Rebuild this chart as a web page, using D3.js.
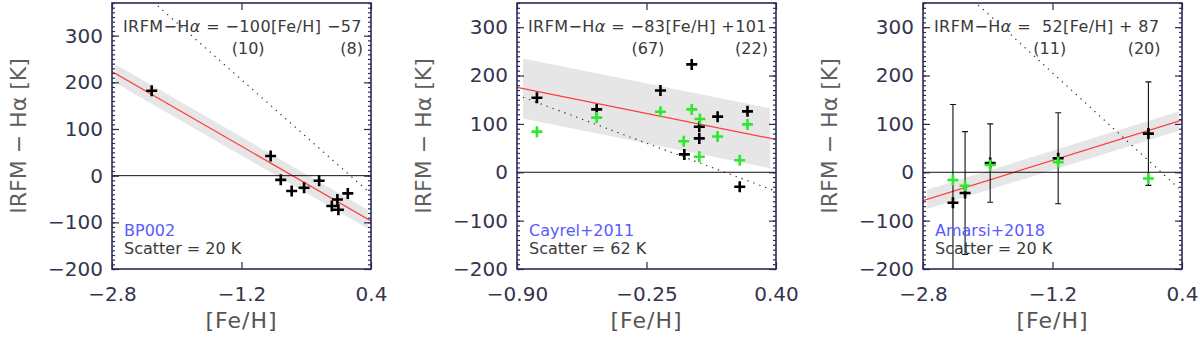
<!DOCTYPE html>
<html>
<head>
<meta charset="utf-8">
<title>IRFM - Halpha</title>
<script src="https://d3js.org/d3.v7.min.js"></script>
<style>
  body { margin: 0; padding: 0; background: #ffffff; }
  svg { display: block; font-family: "DejaVu Sans", sans-serif; }
  .ann { white-space: pre; }
</style>
</head>
<body>
<div id="chart"></div>
<script>
// ---- data ----
var panelNames = ["BP002", "Cayrel+2011", "Amarsi+2018"];
var scatters = [20, 62, 20];
var slopes = [-100, -83, 52];
var intercepts = [-57, 101, 87];
var slopeText = ["\u2212100", "\u221283", " 52"];
var interceptText = ["\u221257", "+101", "+ 87"];
var slopeErrText = ["(10)", "(67)", "(11)"];
var interceptErrText = ["(8)", "(22)", "(20)"];

var xDomains = [[-2.8, 0.4], [-0.9, 0.4], [-2.8, 0.4]];
var yDomains = [[-200, 370], [-200, 350], [-200, 350]];
var xTicks = [[-2.8, -1.2, 0.4], [-0.9, -0.25, 0.4], [-2.8, -1.2, 0.4]];
var xTickLabels = [["\u22122.8", "\u22121.2", "0.4"], ["\u22120.90", "\u22120.25", "0.40"], ["\u22122.8", "\u22121.2", "0.4"]];
var yTicks = [-200, -100, 0, 100, 200, 300];
var yTickLabels = ["\u2212200", "\u2212100", "0", "100", "200", "300"];

// grey band (fit +- scatter) and dotted reference line extents in [Fe/H]
var bandRanges = [[-2.76, 0.36], [-0.87, 0.37], [-2.75, 0.36]];
var refSlope = -153, refIntercept = 22;
var refRanges = [[-2.76, 0.36], [-0.87, 0.40], [-2.75, 0.36]];

// BP002
var bpFe = [-2.31, -0.84, -0.715, -0.58, -0.427, -0.241, -0.084, -0.015, -0.003, 0.113];
var bpDiff = [182, 42, -9, -33, -26, -11, -65, -51, -73, -38];

// Cayrel+2011
var cayBlackFe = [-0.80, -0.50, -0.18, -0.023, 0.107, 0.257, 0.015, 0.015, -0.06, 0.218];
var cayBlack = [154, 130, 169, 223, 115, 126, 94, 70, 37, -30];
var cayGreenFe = [-0.80, -0.50, -0.18, -0.023, 0.018, -0.063, 0.107, 0.257, 0.015, 0.218];
var cayGreen = [84, 113, 125, 130, 110, 64, 74, 99, 32, 25];

// Amarsi+2018
var amFe = [-2.43, -2.28, -1.97, -1.13, -0.015];
var amBlack = [-63, -43, 19, 29, 80];
var amErr = [203, 127, 81, 94, 107];
var amGreen = [-16, -28, 15, 21, -13];

var blackPts = [
  bpFe.map(function (f, i) { return { fe: f, v: bpDiff[i] }; }),
  cayBlackFe.map(function (f, i) { return { fe: f, v: cayBlack[i] }; }),
  amFe.map(function (f, i) { return { fe: f, v: amBlack[i], err: amErr[i] }; })
];
var greenPts = [
  [],
  cayGreenFe.map(function (f, i) { return { fe: f, v: cayGreen[i] }; }),
  amFe.map(function (f, i) { return { fe: f, v: amGreen[i] }; })
];

// ---- layout ----
var W = 1200, H = 341;
var lefts = [112, 517, 923];
var pw = 259, plotTop = 3, ph = 266;
var frameColor = "#2b2b55";
var green = "#2ee82e";

var svg = d3.select("#chart").append("svg")
  .attr("width", W).attr("height", H);

function cross(g, pts, x, y, color) {
  var s = 5.5;
  g.selectAll(null).data(pts).enter().append("path")
    .attr("d", function (d) {
      var cx = x(d.fe), cy = y(d.v);
      return "M" + (cx - s) + "," + cy + "H" + (cx + s) + "M" + cx + "," + (cy - s) + "V" + (cy + s);
    })
    .attr("stroke", color).attr("stroke-width", 2.6).attr("fill", "none");
}

for (var p = 0; p < 3; p++) {
  var g = svg.append("g").attr("transform", "translate(" + lefts[p] + "," + plotTop + ")");
  var x = d3.scaleLinear().domain(xDomains[p]).range([0, pw]);
  var y = d3.scaleLinear().domain(yDomains[p]).range([ph, 0]);

  g.append("clipPath").attr("id", "clip" + p)
    .append("rect").attr("width", pw).attr("height", ph);
  var plot = g.append("g").attr("clip-path", "url(#clip" + p + ")");

  var fit = (function (a, b) { return function (f) { return a * f + b; }; })(slopes[p], intercepts[p]);
  var sc = scatters[p];

  // band
  plot.append("path")
    .datum(bandRanges[p])
    .attr("d", d3.area()
      .x(function (f) { return x(f); })
      .y0(function (f) { return y(fit(f) - sc); })
      .y1(function (f) { return y(fit(f) + sc); }))
    .attr("fill", "#e6e6e6");

  // fit line
  plot.append("path")
    .datum(xDomains[p])
    .attr("d", d3.line().x(function (f) { return x(f); }).y(function (f) { return y(fit(f)); }))
    .attr("stroke", "#ff3b3b").attr("stroke-width", 1.2).attr("fill", "none");

  // dotted reference line
  plot.append("path")
    .datum(refRanges[p])
    .attr("d", d3.line().x(function (f) { return x(f); }).y(function (f) { return y(refSlope * f + refIntercept); }))
    .attr("stroke", "#333").attr("stroke-width", 1.2).attr("stroke-dasharray", "1.3,5")
    .attr("fill", "none");

  // zero line
  plot.append("line")
    .attr("x1", 0).attr("x2", pw).attr("y1", y(0)).attr("y2", y(0))
    .attr("stroke", "#111").attr("stroke-width", 1);

  // error bars
  var withErr = blackPts[p].filter(function (d) { return d.err != null; });
  plot.selectAll(null).data(withErr).enter().append("path")
    .attr("d", function (d) {
      var cx = x(d.fe), y1 = y(d.v + d.err), y0 = y(d.v - d.err);
      return "M" + cx + "," + y0 + "V" + y1 + "M" + (cx - 3) + "," + y1 + "H" + (cx + 3) +
        "M" + (cx - 3) + "," + y0 + "H" + (cx + 3);
    })
    .attr("stroke", "#111").attr("stroke-width", 1.1).attr("fill", "none");

  cross(plot, blackPts[p], x, y, "#000");
  cross(plot, greenPts[p], x, y, green);

  // axes: ticks point inward
  var yMinor = d3.range(yDomains[p][0], yDomains[p][1] + 1, 10);
  g.append("g").call(d3.axisLeft(y).tickValues(yMinor).tickSize(-3).tickFormat(""));
  g.append("g").attr("transform", "translate(" + pw + ",0)")
    .call(d3.axisRight(y).tickValues(yMinor).tickSize(-3).tickFormat(""));
  g.append("g").attr("class", "yax")
    .call(d3.axisLeft(y).tickValues(yTicks).tickSize(-7).tickPadding(9)
      .tickFormat(function (d, i) { return yTickLabels[i]; }));
  g.append("g").attr("transform", "translate(" + pw + ",0)")
    .call(d3.axisRight(y).tickValues(yTicks).tickSize(-7).tickFormat(""));
  var xt = xTickLabels[p];
  g.append("g").attr("class", "xax").attr("transform", "translate(0," + ph + ")")
    .call(d3.axisBottom(x).tickValues(xTicks[p]).tickSize(-7).tickPadding(18)
      .tickFormat(function (d, i) { return xt[i]; }));
  g.append("g")
    .call(d3.axisTop(x).tickValues(xTicks[p]).tickSize(-7).tickFormat(""));

  g.selectAll(".domain").remove();
  g.selectAll(".tick line").attr("stroke", frameColor).attr("stroke-width", 1.2);
  g.selectAll(".tick text")
    .attr("font-family", "DejaVu Sans").attr("font-size", 20).attr("fill", "#34344f");

  g.append("rect").attr("width", pw).attr("height", ph)
    .attr("fill", "none").attr("stroke", frameColor).attr("stroke-width", 1.6);

  // axis titles
  g.append("text")
    .attr("transform", "translate(-86," + (ph / 2) + ") rotate(-90)")
    .attr("text-anchor", "middle").attr("font-size", 22).attr("fill", "#606060")
    .text("IRFM \u2212 H\u03b1 [K]");
  g.append("text")
    .attr("x", pw / 2).attr("y", ph + 59)
    .attr("text-anchor", "middle").attr("font-size", 22).attr("fill", "#555")
    .attr("letter-spacing", 1)
    .text("[Fe/H]");

  // equation annotation
  var eq = g.append("text").attr("class", "ann")
    .attr("x", 11).attr("y", 29).attr("font-size", 16).attr("fill", "#3a3a3a")
    .attr("letter-spacing", 0.4);
  eq.append("tspan").text("IRFM\u2212H");
  eq.append("tspan").attr("font-style", "italic").text("\u03b1");
  eq.append("tspan").text(" = ");
  eq.append("tspan").text(slopeText[p]);
  eq.append("tspan").text("[Fe/H] ");
  eq.append("tspan").text(interceptText[p]);

  var node = eq.node();
  var full = node.textContent;
  var cStart = full.indexOf(slopeText[p]);
  var c0 = node.getStartPositionOfChar(cStart).x;
  var c1 = node.getEndPositionOfChar(cStart + slopeText[p].length - 1).x;
  var eqEnd = node.getEndPositionOfChar(full.length - 1).x;

  g.append("text").attr("x", (c0 + c1) / 2).attr("y", 51)
    .attr("text-anchor", "middle").attr("font-size", 16).attr("fill", "#3a3a3a")
    .text(slopeErrText[p]);
  g.append("text").attr("x", eqEnd + 1).attr("y", 51)
    .attr("text-anchor", "end").attr("font-size", 16).attr("fill", "#3a3a3a")
    .text(interceptErrText[p]);

  // name and scatter
  g.append("text").attr("x", 12).attr("y", 233)
    .attr("font-size", 16).attr("fill", "#5a5aff").text(panelNames[p]);
  g.append("text").attr("class", "ann").attr("x", 12).attr("y", 251)
    .attr("font-size", 16).attr("fill", "#3a3a3a").text("Scatter = " + scatters[p] + " K");
}
</script>
</body>
</html>
